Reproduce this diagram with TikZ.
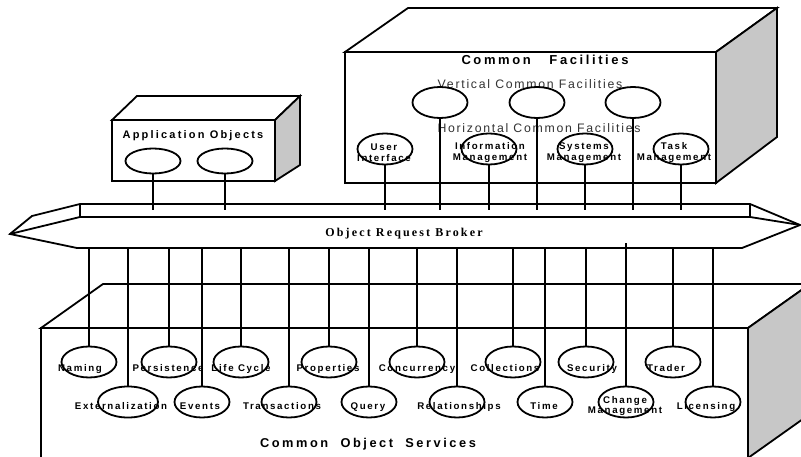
\documentclass[tikz,border=0pt]{standalone}
\usepackage{fontspec}
\newfontfamily\lblfont[LetterSpace=17]{Liberation Sans}
\newfontfamily\ttlfont[LetterSpace=20]{Liberation Sans}
\newfontfamily\subfont[LetterSpace=14]{Liberation Sans}
\newfontfamily\orbfont[LetterSpace=18]{Liberation Serif}
\usetikzlibrary{shapes.geometric}

\begin{document}
\begin{tikzpicture}[x=1pt, y=-1pt, line width=1.8pt,
		svc/.style={ellipse, draw, minimum width=55pt, minimum height=31pt, inner sep=0pt},
		tag/.style={font=\lblfont\bfseries\fontsize{9.7}{10.5}\selectfont, inner sep=0pt, align=center},
		title/.style={font=\ttlfont\bfseries\fontsize{#1}{#1}\selectfont, inner sep=0pt, anchor=base},
		sub/.style={font=\subfont\fontsize{12.3}{12.3}\selectfont, text=black!80, inner sep=0pt, anchor=base},
		side/.style={draw, fill=black!22}
		]
		\clip (0,0) rectangle (801,457);

		% Common Object Services box
		\draw [fill=white] (41,328) -- (103,284) -- (810,284) -- (748,328) -- cycle;
		\draw [side] (748,328) -- (810,284) -- (810,414) -- (748,458) -- cycle;
		\draw (41,460) -- (41,328) -- (748,328) -- (748,460);
		\node [title=12.8] (cos) at (368,447) {Common\ \ Object\ \ Services};

		% Object Request Broker
		\draw [fill=white] (80,204) -- (750,204) -- (800,225) -- (742,248) -- (77,248) -- (10,234) -- (32,216) -- cycle;
		\draw (10,234) -- (80,217) -- (750,217) -- (800,225);
		\draw (80,204) -- (80,217);
		\draw (750,204) -- (750,217);
		\node [font=\orbfont\bfseries\fontsize{12}{12}\selectfont, inner sep=0pt, anchor=base] (orb) at (404,237) {Object Request Broker};
		\coordinate (orbtop) at (0,210);
		\coordinate (orbbot) at (0,248);
		\coordinate (orbin) at (0,243);

		% services, upper row
		\node [svc] (nm) at (89,362) {};
		\node [svc] (ps) at (169,362) {};
		\node [svc] (lc) at (241,362) {};
		\node [svc] (pr) at (329,362) {};
		\node [svc] (cc) at (417,362) {};
		\node [svc] (co) at (513,362) {};
		\node [svc] (se) at (586,362) {};
		\node [svc] (tr) at (673,362) {};
		% services, lower row
		\node [svc, minimum width=60pt] (ex) at (128,402) {};
		\node [svc] (ev) at (202,402) {};
		\node [svc] (ta) at (289,402) {};
		\node [svc] (qu) at (369,402) {};
		\node [svc] (re) at (457,402) {};
		\node [svc] (ti) at (545,402) {};
		\node [svc] (cm) at (626,402) {};
		\node [svc] (li) at (713,402) {};

		\node [tag, anchor=base] (nmt) at (80,371) {Naming};
		\node [tag, anchor=base] (pst) at (168,371) {Persistence};
		\node [tag, anchor=base] (lct) at (241,371) {Life Cycle};
		\node [tag, anchor=base] (prt) at (328,371) {Properties};
		\node [tag, anchor=base] (cct) at (417,371) {Concurrency};
		\node [tag, anchor=base] (cot) at (505,371) {Collections};
		\node [tag, anchor=base] (set) at (592,371) {Security};
		\node [tag, anchor=base] (trt) at (666,371) {Trader};
		\node [tag, anchor=base] (ext) at (121,409) {Externalization};
		\node [tag, anchor=base] (evt) at (200,409) {Events};
		\node [tag, anchor=base] (tat) at (282,409) {Transactions};
		\node [tag, anchor=base] (qut) at (368,409) {Query};
		\node [tag, anchor=base] (ret) at (459,409) {Relationships};
		\node [tag, anchor=base] (tit) at (544,409) {Time};
		\node [tag] (cmt) at (625,406) {Change\\Management};
		\node [tag, anchor=base] (lit) at (706,409) {Licensing};

		\draw (nm) -- (nm |- orbbot);
		\draw (ps) -- (ps |- orbbot);
		\draw (lc) -- (lc |- orbbot);
		\draw (pr) -- (pr |- orbbot);
		\draw (cc) -- (cc |- orbbot);
		\draw (co) -- (co |- orbbot);
		\draw (se) -- (se |- orbbot);
		\draw (tr) -- (tr |- orbbot);
		\draw (ex) -- (ex |- orbbot);
		\draw (ev) -- (ev |- orbbot);
		\draw (ta) -- (ta |- orbbot);
		\draw (qu) -- (qu |- orbbot);
		\draw (re) -- (re |- orbbot);
		\draw (ti) -- (ti |- orbbot);
		\draw (cm) -- (cm |- orbin);
		\draw (li) -- (li |- orbbot);

		% Common Facilities box
		\draw [fill=white] (345,52) -- (408,8) -- (777,8) -- (716,52) -- cycle;
		\draw [side] (716,52) -- (777,8) -- (777,137) -- (716,183) -- cycle;
		\draw [fill=white] (345,52) rectangle (716,183);
		\node [title=13] (cf) at (545,65) {Common\ \ \ Facilities};
		\node [sub] (vcf) at (530,89) {Vertical Common Facilities};
		\node [sub] (hcf) at (539,133) {Horizontal Common Facilities};

		\node [svc] (vf1) at (440,102.5) {};
		\node [svc] (vf2) at (537,102.5) {};
		\node [svc] (vf3) at (633,102.5) {};
		\node [svc] (ui) at (385,149) {};
		\node [svc] (im) at (489,149) {};
		\node [svc] (sm) at (585,149) {};
		\node [svc] (tm) at (681,149) {};
		\node [tag] (uit) at (384,152.5) {User\\Interface};
		\node [tag] (imt) at (490,152.5) {Information\\Management};
		\node [tag] (smt) at (584,152.5) {Systems\\Management};
		\node [tag] (tmt) at (674,152.5) {Task\\Management};

		\draw (vf1) -- (vf1 |- orbtop);
		\draw (vf2) -- (vf2 |- orbtop);
		\draw (vf3) -- (vf3 |- orbtop);
		\draw (ui) -- (ui |- orbtop);
		\draw (im) -- (im |- orbtop);
		\draw (sm) -- (sm |- orbtop);
		\draw (tm) -- (tm |- orbtop);

		% Application Objects box
		\draw [fill=white] (112,120) -- (137,96) -- (300,96) -- (275,120) -- cycle;
		\draw [side] (275,120) -- (300,96) -- (300,165) -- (275,181) -- cycle;
		\draw [fill=white] (112,120) rectangle (275,181);
		\node [title=11] (ao) at (193,139) {Application Objects};
		\node [svc, minimum height=25pt] (app1) at (153,161) {};
		\node [svc, minimum height=25pt] (app2) at (225,161) {};
		\draw (app1) -- (app1 |- orbtop);
		\draw (app2) -- (app2 |- orbtop);
	\end{tikzpicture}
\end{document}
